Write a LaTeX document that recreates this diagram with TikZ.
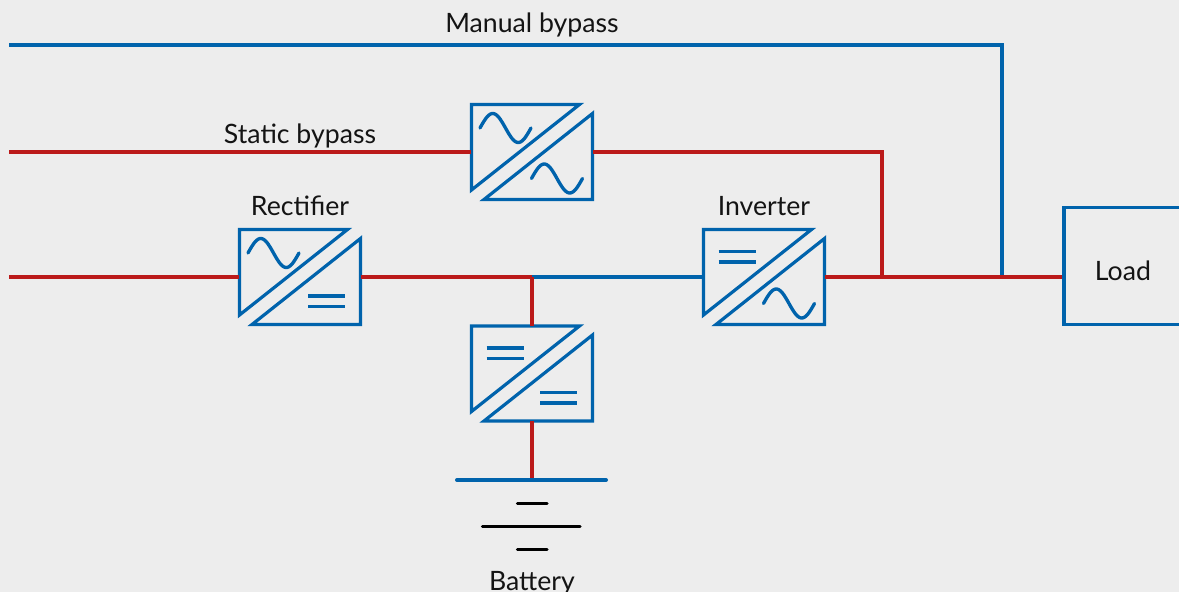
\documentclass[tikz,border=0pt]{standalone}
\usepackage{fontspec}
\setmainfont{Lato}
\usetikzlibrary{calc}
\definecolor{upsblue}{HTML}{0063AC}
\definecolor{upsred}{HTML}{BB1A1A}
\definecolor{upsback}{HTML}{EDEDED}
\tikzset{
  conv/.style={minimum width=90.75pt, minimum height=71.5pt, inner sep=0pt},
  convline/.style={draw=upsblue, line width=2.4pt, miter limit=20},
  symline/.style={draw=upsblue, line width=2.5pt},
  feed/.style={line width=3pt, upsred},
  bypass/.style={line width=3pt, upsblue},
  lbl/.style={font=\fontsize{20}{24}\selectfont, text=black!92, inner sep=0pt, anchor=base}
}
% converter symbols, drawn round the middle of the box
\newcommand{\wavetop}{\draw[symline, line cap=round] plot[domain=0:360, samples=41] ({-52+\x/360*51}, {-24-14.5*sin(\x)});}
\newcommand{\wavebot}{\draw[symline, line cap=round] plot[domain=0:360, samples=41] ({-0.5+\x/360*51}, {26.5-14.5*sin(\x)});}
\newcommand{\barstop}{\draw[symline] (-45.5,-25.5) -- (-8.5,-25.5) (-45.5,-15) -- (-8.5,-15);}
\newcommand{\barsbot}{\draw[symline] (8,19) -- (45,19) (8,29.5) -- (45,29.5);}
\newcommand{\converter}[4]{
  \node[conv] (#1) at (#2) {};
  \begin{scope}[shift={(#2)}]
    \draw[convline] (-60.5,-47.5) -- (47.5,-47.5) -- (-60.5,38) -- cycle;
    \draw[convline] (60.5,-38.5) -- (60.5,47.5) -- (-48,47.5) -- cycle;
    #3
    #4
  \end{scope}
}

\begin{document}
\begin{tikzpicture}[x=0.75pt, y=-0.75pt]
  \useasboundingbox[fill=upsback] (0,0) rectangle (1179,592);

  % nodes
  \converter{rectifier}{300,277}{\wavetop}{\barsbot}
  \converter{staticconv}{532,152}{\wavetop}{\wavebot}
  \converter{inverter}{764,277}{\barstop}{\wavebot}
  \converter{batconv}{532,373.5}{\barstop}{\barsbot}
  \node[draw=upsblue, line width=2.4pt, minimum width=88.5pt, minimum height=88pt, inner sep=0pt] (load) at (1123,266) {};
  \node[lbl] (loadlabel) at (1123,280) {Load};
  \node[lbl] (manuallabel) at (532,33) {Manual bypass};
  \node[lbl] (staticlabel) at (300,143) {Static bypass};
  \node[lbl] (rectlabel) at (300,215.5) {Rectifier};
  \node[lbl] (invlabel) at (764,215.5) {Inverter};
  \node[lbl] (batlabel) at (532,590) {Battery};

  % free ends and junctions
  \coordinate (manualin) at (9,45);
  \coordinate (staticin) at (9,152);
  \coordinate (mainin) at (9,277);
  \coordinate (dcbus) at (532,277);
  \coordinate (manualjoin) at (1002,277);
  \coordinate (staticjoin) at (882,277);
  \coordinate (plate) at (532,480);
  \coordinate (platel) at (457,480);
  \coordinate (plater) at (606,480);
  \coordinate (cellal) at (517.5,503.5);
  \coordinate (cellar) at (547,503.5);
  \coordinate (cellbl) at (482.5,526.5);
  \coordinate (cellbr) at (580,526.5);
  \coordinate (cellcl) at (517.5,549.5);
  \coordinate (cellcr) at (547,549.5);

  % connectors
  \draw[bypass] (manualin) -| (manualjoin);
  \draw[bypass] (dcbus) -- (inverter.west);
  \draw[feed] (staticin) -- (staticconv.west);
  \draw[feed] (staticconv.east) -| (staticjoin);
  \draw[feed] (mainin) -- (rectifier.west);
  \draw[feed] (rectifier.east) -- (dcbus);
  \draw[feed] (inverter.east) -- (inverter.east -| load.west);
  \draw[feed] (dcbus) -- (batconv.north);
  \draw[feed] (batconv.south) -- (plate);

  % battery
  \draw[bypass, line cap=round] (platel) -- (plater);
  \draw[line width=2.6pt, line cap=round] (cellal) -- (cellar);
  \draw[line width=2.6pt, line cap=round] (cellbl) -- (cellbr);
  \draw[line width=2.6pt, line cap=round] (cellcl) -- (cellcr);
\end{tikzpicture}
\end{document}
